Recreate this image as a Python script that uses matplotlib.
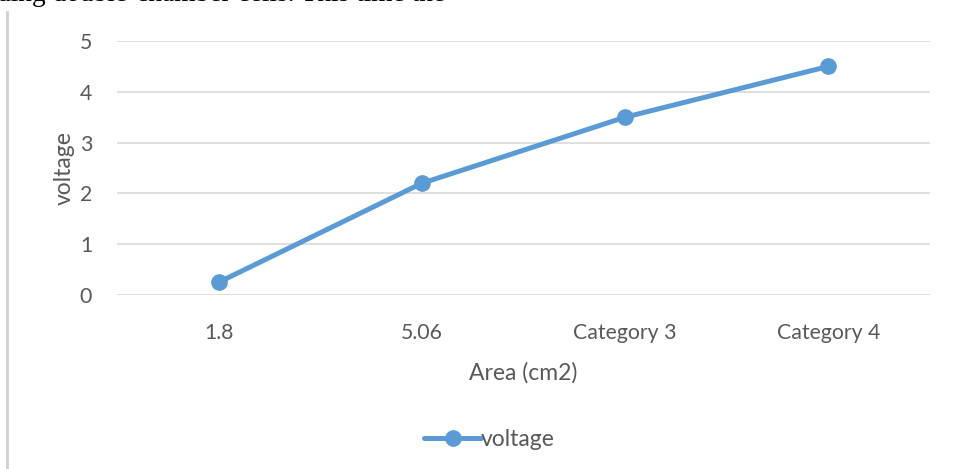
import matplotlib.pyplot as plt

# chart data
categories = ['1.8', '5.06', 'Category 3', 'Category 4']
voltage = [0.25, 2.2, 3.5, 4.5]
y_ticks = [0, 1, 2, 3, 4, 5]

plt.rcParams['font.family'] = ['Lato', 'DejaVu Sans']
grey = '#595959'
blue = '#5B9BD5'

fig = plt.figure(figsize=(9.57, 4.69), dpi=100)
ax = fig.add_axes([0.1223, 0.371, 0.8495, 0.5416])

x = range(len(categories))
ax.plot(x, voltage, color=blue, lw=3.6, marker='o', markersize=11,
        solid_capstyle='round', label='voltage')

ax.set_xlim(-0.5, len(categories) - 0.5)
ax.set_ylim(0, 5)
ax.set_xticks(list(x))
ax.set_xticklabels(categories)
ax.set_yticks(y_ticks)
ax.tick_params(length=0, colors=grey, labelsize=15.3)
ax.tick_params(axis='x', pad=20)
ax.tick_params(axis='y', pad=18)
ax.grid(axis='y', color='#D9D9D9', lw=1.2)
ax.set_axisbelow(True)
for s in ax.spines.values():
    s.set_visible(False)

ax.set_xlabel('Area (cm2)', color=grey, fontsize=16.5, labelpad=14)
ax.set_ylabel('voltage', color=grey, fontsize=16.5)
ax.yaxis.set_label_coords(-0.052, 0.5)

leg = fig.legend(loc='center', bbox_to_anchor=(0.5115, 0.062), frameon=False,
                 fontsize=16.5, handlelength=2.5, handletextpad=0.0)
for t in leg.get_texts():
    t.set_color(grey)

# bits of the surrounding document page
fig.text(-0.003, 1 - 1 / 469, 'ding double-chamber cells. This time the',
         family='Liberation Serif', fontsize=19.7, va='baseline', ha='left')
fig.add_artist(plt.Line2D([0.0078, 0.0078], [0, 1 - 12 / 469], color='#D0D0D0',
                          lw=2, transform=fig.transFigure))

fig.savefig('out.png', dpi=100)
